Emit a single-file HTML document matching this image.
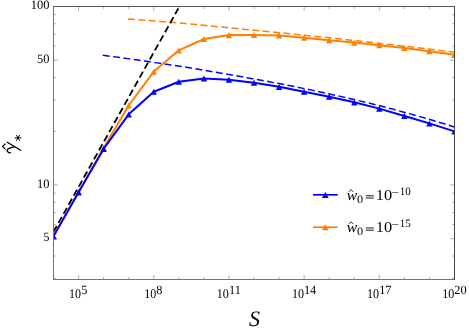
<!DOCTYPE html>
<html><head><meta charset="utf-8"><title>plot</title><style>html,body{margin:0;padding:0;background:#fff}body{width:469px;height:332px;overflow:hidden;position:relative;font-family:"Liberation Serif",serif}</style></head><body>
<svg width="469" height="332" viewBox="0 0 469 332" style="position:absolute;left:0;top:0">
<defs><clipPath id="c"><rect x="53.5" y="6.5" width="401.0" height="273.0"/></clipPath></defs>
<rect width="469" height="332" fill="#fff"/>
<path d="M53.50 279.5v-2.4M53.50 6.5v2.4M78.56 279.5v-4.4M78.56 6.5v4.4M103.62 279.5v-2.4M103.62 6.5v2.4M128.69 279.5v-2.4M128.69 6.5v2.4M153.75 279.5v-4.4M153.75 6.5v4.4M178.81 279.5v-2.4M178.81 6.5v2.4M203.88 279.5v-2.4M203.88 6.5v2.4M228.94 279.5v-4.4M228.94 6.5v4.4M254.00 279.5v-2.4M254.00 6.5v2.4M279.06 279.5v-2.4M279.06 6.5v2.4M304.12 279.5v-4.4M304.12 6.5v4.4M329.19 279.5v-2.4M329.19 6.5v2.4M354.25 279.5v-2.4M354.25 6.5v2.4M379.31 279.5v-4.4M379.31 6.5v4.4M404.38 279.5v-2.4M404.38 6.5v2.4M429.44 279.5v-2.4M429.44 6.5v2.4M454.50 279.5v-4.4M454.50 6.5v4.4M53.5 278.33h2.4M454.5 278.33h-2.4M53.5 256.03h2.4M454.5 256.03h-2.4M53.5 238.73h4.4M454.5 238.73h-4.4M53.5 224.60h2.4M454.5 224.60h-2.4M53.5 212.65h2.4M454.5 212.65h-2.4M53.5 202.30h2.4M454.5 202.30h-2.4M53.5 193.17h2.4M454.5 193.17h-2.4M53.5 185.00h4.4M454.5 185.00h-4.4M53.5 131.27h2.4M454.5 131.27h-2.4M53.5 99.83h2.4M454.5 99.83h-2.4M53.5 77.53h2.4M454.5 77.53h-2.4M53.5 60.23h4.4M454.5 60.23h-4.4M53.5 46.10h2.4M454.5 46.10h-2.4M53.5 34.15h2.4M454.5 34.15h-2.4M53.5 23.80h2.4M454.5 23.80h-2.4M53.5 14.67h2.4M454.5 14.67h-2.4M53.5 6.50h4.4M454.5 6.50h-4.4" stroke="#999" stroke-width="0.8" fill="none"/>
<g clip-path="url(#c)" fill="none" stroke-linejoin="round">
<polyline points="128.0,18.90 136.2,19.53 144.3,20.16 152.5,20.81 160.7,21.46 168.9,22.13 177.1,22.80 185.2,23.54 193.4,24.32 201.6,25.10 209.8,25.90 217.9,26.71 226.1,27.53 234.3,28.35 242.4,29.17 250.6,29.93 258.8,30.71 267.0,31.49 275.1,32.29 283.3,33.10 291.5,33.91 299.7,34.74 307.9,35.57 316.0,36.42 324.2,37.27 332.4,38.14 340.6,39.02 348.7,39.90 356.9,40.80 365.1,41.70 373.2,42.62 381.4,43.55 389.6,44.48 397.8,45.43 405.9,46.39 414.1,47.35 422.3,48.33 430.5,49.31 438.6,50.31 446.8,51.32 455.0,52.33" stroke="#ff7f00" stroke-width="1.5" stroke-dasharray="6.9 3.5"/>
<polyline points="102.8,55.22 111.6,56.42 120.4,57.64 129.2,58.87 138.0,60.11 146.8,61.36 155.6,62.63 164.4,63.92 173.2,65.23 182.0,66.57 190.8,68.01 199.7,69.47 208.5,70.96 217.3,72.47 226.1,74.02 234.9,75.59 243.7,77.16 252.5,78.71 261.3,80.29 270.1,81.91 278.9,83.57 287.7,85.27 296.5,87.01 305.3,88.80 314.1,90.63 322.9,92.50 331.7,94.42 340.5,96.39 349.3,98.42 358.1,100.49 366.9,102.62 375.8,104.80 384.6,107.04 393.4,109.35 402.2,111.71 411.0,114.13 419.8,116.62 428.6,119.17 437.4,121.79 446.2,124.47 455.0,127.23" stroke="#0000ff" stroke-width="1.5" stroke-dasharray="6.9 3.5"/>
<line x1="53.4" y1="232" x2="178.3" y2="8.5" stroke="#000" stroke-width="1.8" stroke-dasharray="6.9 3.5"/>
<polyline points="53.5,236.0 78.6,192.0 103.6,147.9 128.7,105.5 153.8,71.6 178.8,50.3 203.9,39.0 228.9,35.1 254.0,35.0 279.1,35.5 304.1,37.7 329.2,40.2 354.2,42.6 379.3,45.2 404.4,48.0 429.4,51.2 454.5,54.8" stroke="#ff7f00" stroke-width="2"/>
<path d="M53.5 233.1L56.7 239.1L50.3 239.1Z" fill="#ff7f00"/>
<path d="M78.6 189.1L81.8 195.1L75.4 195.1Z" fill="#ff7f00"/>
<path d="M103.6 145.0L106.8 151.0L100.4 151.0Z" fill="#ff7f00"/>
<path d="M128.7 102.6L131.9 108.6L125.5 108.6Z" fill="#ff7f00"/>
<path d="M153.8 68.7L156.9 74.7L150.6 74.7Z" fill="#ff7f00"/>
<path d="M178.8 47.4L182.0 53.4L175.6 53.4Z" fill="#ff7f00"/>
<path d="M203.9 36.1L207.1 42.1L200.7 42.1Z" fill="#ff7f00"/>
<path d="M228.9 32.2L232.1 38.2L225.7 38.2Z" fill="#ff7f00"/>
<path d="M254.0 32.1L257.2 38.1L250.8 38.1Z" fill="#ff7f00"/>
<path d="M279.1 32.6L282.3 38.6L275.9 38.6Z" fill="#ff7f00"/>
<path d="M304.1 34.8L307.3 40.8L300.9 40.8Z" fill="#ff7f00"/>
<path d="M329.2 37.3L332.4 43.3L326.0 43.3Z" fill="#ff7f00"/>
<path d="M354.2 39.7L357.4 45.7L351.1 45.7Z" fill="#ff7f00"/>
<path d="M379.3 42.3L382.5 48.3L376.1 48.3Z" fill="#ff7f00"/>
<path d="M404.4 45.1L407.6 51.1L401.2 51.1Z" fill="#ff7f00"/>
<path d="M429.4 48.3L432.6 54.3L426.2 54.3Z" fill="#ff7f00"/>
<path d="M454.5 51.9L457.7 57.9L451.3 57.9Z" fill="#ff7f00"/>
<polyline points="53.5,236.3 78.6,192.3 103.6,148.9 128.7,114.3 153.8,91.7 178.8,81.7 203.9,78.4 228.9,79.7 254.0,82.7 279.1,86.8 304.1,91.7 329.2,96.7 354.2,102.3 379.3,108.6 404.4,116.0 429.4,123.4 454.5,131.4" stroke="#0000ff" stroke-width="2"/>
<path d="M53.5 233.4L56.7 239.4L50.3 239.4Z" fill="#0000ff"/>
<path d="M78.6 189.4L81.8 195.4L75.4 195.4Z" fill="#0000ff"/>
<path d="M103.6 146.0L106.8 152.0L100.4 152.0Z" fill="#0000ff"/>
<path d="M128.7 111.4L131.9 117.4L125.5 117.4Z" fill="#0000ff"/>
<path d="M153.8 88.8L156.9 94.8L150.6 94.8Z" fill="#0000ff"/>
<path d="M178.8 78.8L182.0 84.8L175.6 84.8Z" fill="#0000ff"/>
<path d="M203.9 75.5L207.1 81.5L200.7 81.5Z" fill="#0000ff"/>
<path d="M228.9 76.8L232.1 82.8L225.7 82.8Z" fill="#0000ff"/>
<path d="M254.0 79.8L257.2 85.8L250.8 85.8Z" fill="#0000ff"/>
<path d="M279.1 83.9L282.3 89.9L275.9 89.9Z" fill="#0000ff"/>
<path d="M304.1 88.8L307.3 94.8L300.9 94.8Z" fill="#0000ff"/>
<path d="M329.2 93.8L332.4 99.8L326.0 99.8Z" fill="#0000ff"/>
<path d="M354.2 99.4L357.4 105.4L351.1 105.4Z" fill="#0000ff"/>
<path d="M379.3 105.7L382.5 111.7L376.1 111.7Z" fill="#0000ff"/>
<path d="M404.4 113.1L407.6 119.1L401.2 119.1Z" fill="#0000ff"/>
<path d="M429.4 120.5L432.6 126.5L426.2 126.5Z" fill="#0000ff"/>
<path d="M454.5 128.5L457.7 134.5L451.3 134.5Z" fill="#0000ff"/>
</g>
<path d="M53.0 6.5H455.0" stroke="#5a5a5a" stroke-width="1" fill="none"/>
<path d="M53.0 279.5H455.0" stroke="#747474" stroke-width="1" fill="none"/>
<path d="M53.5 6.5V279.5" stroke="#747474" stroke-width="1" fill="none"/>
<path d="M454.5 6.5V279.5" stroke="#464646" stroke-width="1" fill="none"/>
<line x1="313" y1="194.8" x2="337.7" y2="194.8" stroke="#0000ff" stroke-width="1.7"/>
<path d="M325.3 191.9L328.7 197.9L321.9 197.9Z" fill="#0000ff"/>
<line x1="313" y1="227.2" x2="337.7" y2="227.2" stroke="#ff7f00" stroke-width="1.7"/>
<path d="M325.3 224.3L328.7 230.3L321.9 230.3Z" fill="#ff7f00"/>
<g font-family="Liberation Serif, serif" fill="#000" text-rendering="geometricPrecision" style="will-change:transform">
<text transform="translate(49.5,9.0) scale(0.97,1)" font-size="12.8" text-anchor="end">100</text>
<text transform="translate(49.5,62.7) scale(0.97,1)" font-size="12.8" text-anchor="end">50</text>
<text transform="translate(49.5,187.5) scale(0.97,1)" font-size="12.8" text-anchor="end">10</text>
<text transform="translate(49.5,241.2) scale(0.97,1)" font-size="12.8" text-anchor="end">5</text>
<text transform="translate(75.11,297.9) scale(0.92,1)" font-size="13.1" text-anchor="middle">10</text>
<text transform="translate(84.26,294.1) scale(0.98,1)" font-size="12.6" text-anchor="middle">5</text>
<text transform="translate(150.30,297.9) scale(0.92,1)" font-size="13.1" text-anchor="middle">10</text>
<text transform="translate(159.45,294.1) scale(0.98,1)" font-size="12.6" text-anchor="middle">8</text>
<text transform="translate(222.74,297.9) scale(0.92,1)" font-size="13.1" text-anchor="middle">10</text>
<text transform="translate(234.94,294.1) scale(0.98,1)" font-size="12.6" text-anchor="middle">11</text>
<text transform="translate(297.93,297.9) scale(0.92,1)" font-size="13.1" text-anchor="middle">10</text>
<text transform="translate(310.12,294.1) scale(0.98,1)" font-size="12.6" text-anchor="middle">14</text>
<text transform="translate(373.11,297.9) scale(0.92,1)" font-size="13.1" text-anchor="middle">10</text>
<text transform="translate(385.31,294.1) scale(0.98,1)" font-size="12.6" text-anchor="middle">17</text>
<text transform="translate(448.30,297.9) scale(0.92,1)" font-size="13.1" text-anchor="middle">10</text>
<text transform="translate(460.50,294.1) scale(0.98,1)" font-size="12.6" text-anchor="middle">20</text>
<text x="254.4" y="326.3" font-size="22" font-style="italic" text-anchor="middle">S</text>
<g fill="none" stroke="#000" stroke-linecap="round" stroke-linejoin="round"><path d="M7.2 142.2L20.7 150.3" stroke-width="1.3"/><path d="M10.4 152.9C8.6 152.6 6.7 151.6 7.2 150C7.9 148 11.5 147.9 14.5 146.6" stroke-width="1.35"/><path d="M5.6 143.6L2.5 146.5L5.5 149.4" stroke-width="1.1" stroke-linecap="butt"/></g>
<path d="M15.10 137.90L20.90 137.90M16.55 135.39L19.45 140.41M19.45 135.39L16.55 140.41" stroke="#000" stroke-width="1" fill="none" stroke-linecap="round"/>
<text transform="translate(351.95,199.60) scale(1.05,1)" font-size="15" text-anchor="middle" font-style="italic">w</text>
<text transform="translate(360.00,202.70) scale(1.1,1)" font-size="11.2" text-anchor="middle">0</text>
<path d="M365.8 195.8h8M365.8 198.0h8" stroke="#000" stroke-width="0.9" fill="none"/>
<text transform="translate(383.95,199.60) scale(1.08,1)" font-size="15.2" text-anchor="middle">10</text>
<text transform="translate(395.30,195.80) scale(1.2,1)" font-size="11.2" text-anchor="middle">−</text>
<text transform="translate(405.30,195.10) scale(0.97,1)" font-size="11.4" text-anchor="middle">10</text>
<path d="M348.8 191.9L351 189.5L353.1 191.9" stroke="#000" stroke-width="0.8" fill="none"/>
<text transform="translate(351.95,231.80) scale(1.05,1)" font-size="15" text-anchor="middle" font-style="italic">w</text>
<text transform="translate(360.00,234.90) scale(1.1,1)" font-size="11.2" text-anchor="middle">0</text>
<path d="M365.8 228.0h8M365.8 230.2h8" stroke="#000" stroke-width="0.9" fill="none"/>
<text transform="translate(383.95,231.80) scale(1.08,1)" font-size="15.2" text-anchor="middle">10</text>
<text transform="translate(395.30,228.00) scale(1.2,1)" font-size="11.2" text-anchor="middle">−</text>
<text transform="translate(405.30,227.30) scale(0.97,1)" font-size="11.4" text-anchor="middle">15</text>
<path d="M348.8 224.1L351 221.7L353.1 224.1" stroke="#000" stroke-width="0.8" fill="none"/>
</g>
</svg>
</body></html>
